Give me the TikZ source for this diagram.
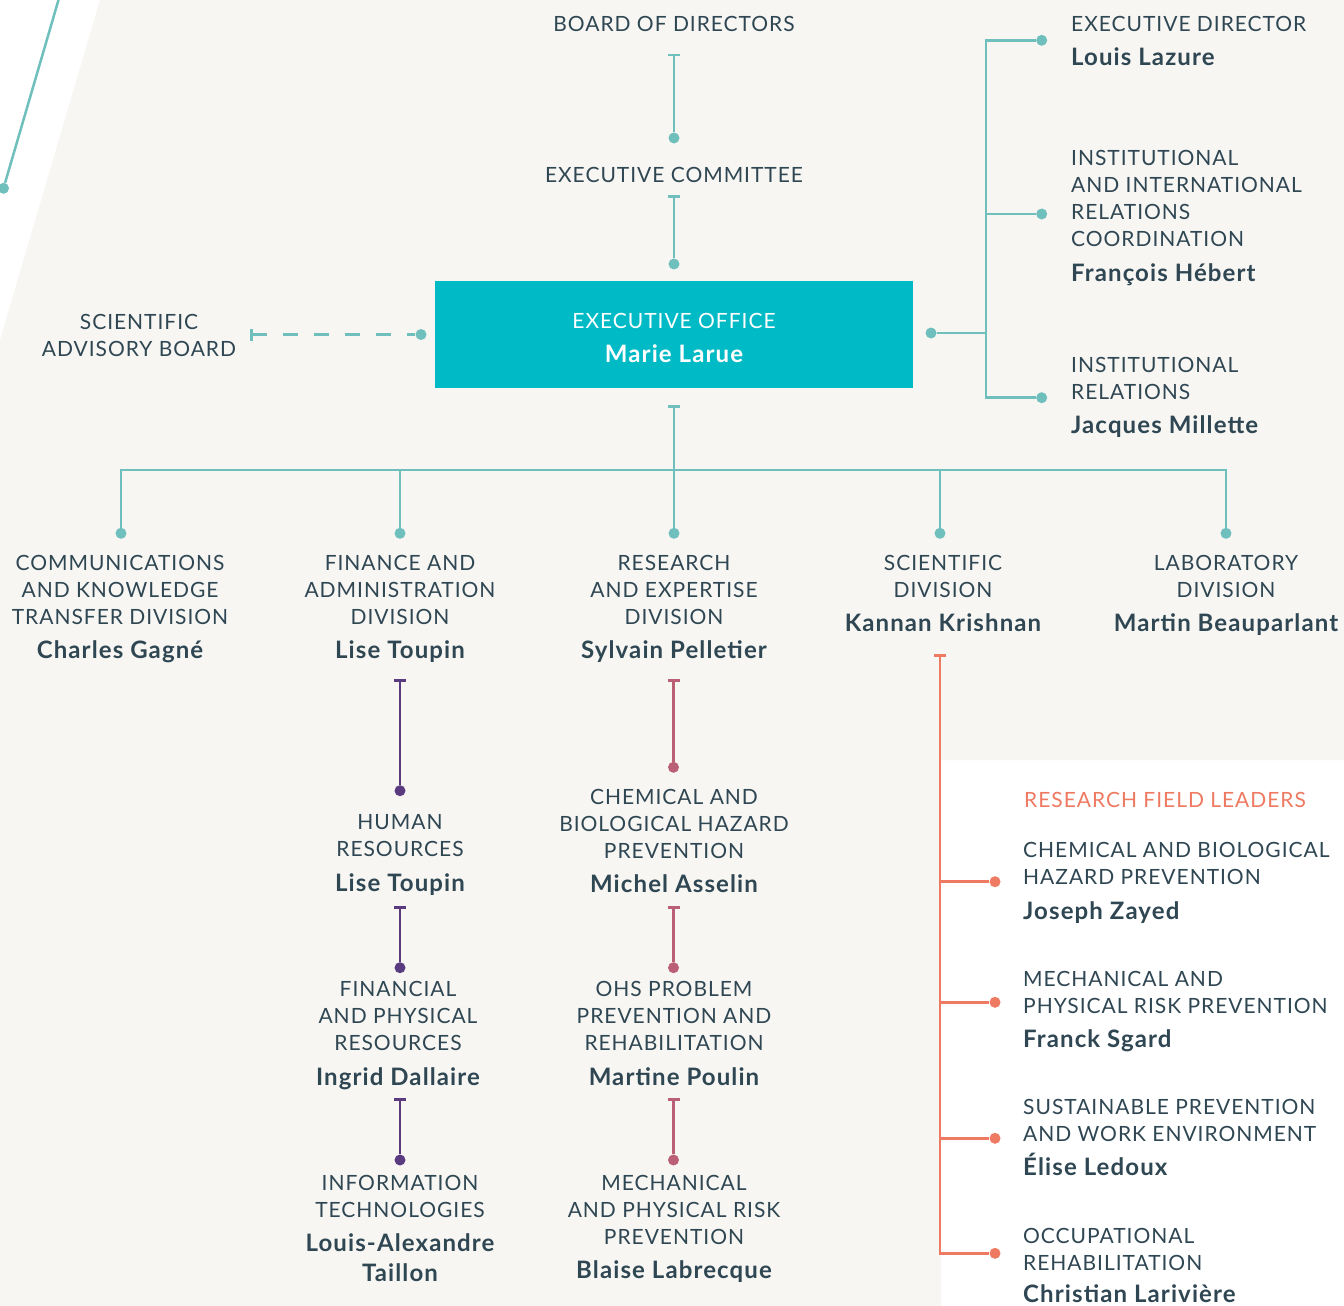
\documentclass[tikz,border=0pt]{standalone}
\usepackage{fontspec}
\setmainfont{Lato}[LetterSpace=4.6]
\usetikzlibrary{arrows.meta}
\definecolor{Paper}{HTML}{F7F6F3}
\definecolor{LinkTeal}{HTML}{6FBFBD}
\definecolor{OfficeCyan}{HTML}{00BAC6}
\definecolor{Ink}{HTML}{2F4653}
\definecolor{Plum}{HTML}{5A3B7F}
\definecolor{Rose}{HTML}{BA5F76}
\definecolor{Coral}{HTML}{EE7A62}

\begin{document}
\begin{tikzpicture}[x=1pt,y=-1pt,
    unit/.style={anchor=base,inner sep=0pt,align=center,text=Ink,font=\fontsize{21}{27}\selectfont},
    unitl/.style={unit,anchor=base west,align=left},
    head/.style={unit,font=\fontsize{24}{30}\selectfont\bfseries},
    headl/.style={head,anchor=base west,align=left},
    knob/.style={circle,fill=#1,inner sep=0pt,minimum size=11pt},
    knob/.default=LinkTeal,
    wire/.style={draw=#1,line width=2.5pt},
    wire/.default=LinkTeal,
    tee/.style={wire=#1,{Bar[width=12pt]}-},
    tee/.default=LinkTeal]
  \useasboundingbox (0,0) rectangle (1344,1306);
  \fill[white] (0,0) rectangle (1344,1306);
  \fill[Paper] (100,0) -- (1344,0) -- (1344,760) -- (941,760) -- (941,1306)
    -- (0,1306) -- (0,340) -- cycle;

  % top of the chart (multi-line texts sit on their last baseline)
  \node[unit] (board) at (674,32) {BOARD OF DIRECTORS};
  \node[unit] (excom) at (674,182) {EXECUTIVE COMMITTEE};
  \node[fill=OfficeCyan,minimum width=478pt,minimum height=107pt,inner sep=0pt] (exec) at (674,334.5) {};
  \node[unit,text=white] (office) at (674,328) {EXECUTIVE OFFICE};
  \node[head,text=white] (larue) at (674,362) {Marie Larue};
  \node[unit] (sab) at (139,356.7) {SCIENTIFIC\\ADVISORY BOARD};

  % executive office staff
  \node[unitl] (exdir) at (1071,32) {EXECUTIVE DIRECTOR};
  \node[headl] (lazure) at (1071,65.5) {Louis Lazure};
  \node[unitl] (iirc) at (1071,246.7) {INSTITUTIONAL\\AND INTERNATIONAL\\RELATIONS\\COORDINATION};
  \node[headl] (hebert) at (1071,281) {François Hébert};
  \node[unitl] (instrel) at (1071,399) {INSTITUTIONAL\\RELATIONS};
  \node[headl] (millette) at (1071,433) {Jacques Millette};

  % divisions
  \node[unit] (comm) at (120,624) {COMMUNICATIONS\\AND KNOWLEDGE\\TRANSFER DIVISION};
  \node[head] (gagne) at (120,658) {Charles Gagné};
  \node[unit] (finance) at (400,624) {FINANCE AND\\ADMINISTRATION\\DIVISION};
  \node[head] (toupin) at (400,658) {Lise Toupin};
  \node[unit] (research) at (674,624) {RESEARCH\\AND EXPERTISE\\DIVISION};
  \node[head] (pelletier) at (674,658) {Sylvain Pelletier};
  \node[unit] (science) at (943,597) {SCIENTIFIC\\DIVISION};
  \node[head] (krishnan) at (943,631.5) {Kannan Krishnan};
  \node[unit] (lab) at (1226,597) {LABORATORY\\DIVISION};
  \node[head] (beauparlant) at (1226,631.5) {Martin Beauparlant};

  % finance services
  \node[unit] (hr) at (400,856.7) {HUMAN\\RESOURCES};
  \node[head] (toupinb) at (400,891) {Lise Toupin};
  \node[unit] (fpr) at (398,1050) {FINANCIAL\\AND PHYSICAL\\RESOURCES};
  \node[head] (dallaire) at (398,1085) {Ingrid Dallaire};
  \node[unit] (infotech) at (400,1217.7) {INFORMATION\\TECHNOLOGIES};
  \node[head] (taillon) at (400,1281.7) {Louis-Alexandre\\Taillon};

  % research departments
  \node[unit] (chem) at (674,858.3) {CHEMICAL AND\\BIOLOGICAL HAZARD\\PREVENTION};
  \node[head] (asselin) at (674,892.7) {Michel Asselin};
  \node[unit] (ohs) at (674,1050) {OHS PROBLEM\\PREVENTION AND\\REHABILITATION};
  \node[head] (poulin) at (674,1085) {Martine Poulin};
  \node[unit] (mech) at (674,1244) {MECHANICAL\\AND PHYSICAL RISK\\PREVENTION};
  \node[head] (labrecque) at (674,1278.7) {Blaise Labrecque};

  % research field leaders
  \node[unitl,text=Coral] (rfl) at (1024,807.7) {RESEARCH FIELD LEADERS};
  \node[unitl] (fldA) at (1023,884.3) {CHEMICAL AND BIOLOGICAL\\HAZARD PREVENTION};
  \node[headl] (zayed) at (1023,919.3) {Joseph Zayed};
  \node[unitl] (fldB) at (1023,1013.3) {MECHANICAL AND\\PHYSICAL RISK PREVENTION};
  \node[headl] (sgard) at (1023,1047.3) {Franck Sgard};
  \node[unitl] (fldC) at (1023,1141.7) {SUSTAINABLE PREVENTION\\AND WORK ENVIRONMENT};
  \node[headl] (ledoux) at (1023,1175.7) {Élise Ledoux};
  \node[unitl] (fldD) at (1023,1270) {OCCUPATIONAL\\REHABILITATION};
  \node[headl] (lariviere) at (1023,1302.5) {Christian Larivière};

  % dots and bar ends
  \coordinate (edge) at (58.5,0);
  \node[knob] (dEdge) at (3.5,188.3) {};
  \coordinate (bBoard) at (674,54);
  \node[knob] (dExcom) at (674,138) {};
  \coordinate (bExcom) at (674,195);
  \node[knob] (dExec) at (674,264) {};
  \coordinate (bSab) at (250,334.5);
  \node[knob] (dSab) at (421,334.5) {};
  \node[knob] (dStaff) at (931,333) {};
  \coordinate (jStaff) at (986,333);
  \node[knob] (dExdir) at (1041.7,40.3) {};
  \node[knob] (dIirc) at (1041.7,214) {};
  \node[knob] (dInstrel) at (1041.7,397.7) {};
  \coordinate (bBus) at (674,405);
  \coordinate (jBus) at (674,470);
  \node[knob] (dComm) at (121,533.3) {};
  \node[knob] (dFin) at (400,533.3) {};
  \node[knob] (dRes) at (674,533.3) {};
  \node[knob] (dSci) at (940,533.3) {};
  \node[knob] (dLab) at (1226,533.3) {};
  \coordinate (bFin1) at (400,679);
  \node[knob=Plum] (dFin1) at (400,790.7) {};
  \coordinate (bFin2) at (400,906);
  \node[knob=Plum] (dFin2) at (400,967.7) {};
  \coordinate (bFin3) at (400,1098);
  \node[knob=Plum] (dFin3) at (400,1160) {};
  \coordinate (bRes1) at (673.5,679);
  \node[knob=Rose] (dRes1) at (673.5,767.3) {};
  \coordinate (bRes2) at (673.5,906);
  \node[knob=Rose] (dRes2) at (673.5,967.7) {};
  \coordinate (bRes3) at (673.5,1098);
  \node[knob=Rose] (dRes3) at (673.5,1160) {};
  \coordinate (bSci) at (940,654);
  \node[knob=Coral] (dFldA) at (995,881.7) {};
  \node[knob=Coral] (dFldB) at (995,1002.3) {};
  \node[knob=Coral] (dFldC) at (995,1138.3) {};
  \node[knob=Coral] (dFldD) at (995,1253.3) {};

  % connectors
  \draw[wire] (edge) -- (dEdge);
  \draw[tee] (bBoard) -- (dExcom);
  \draw[tee] (bExcom) -- (dExec);
  \draw[tee,dash pattern=on 15pt off 16pt] (bSab) -- (dSab);
  \draw[wire] (dStaff) -- (jStaff);
  \foreach \d in {dExdir,dIirc,dInstrel}
    \draw[wire] (jStaff) |- (\d);
  \draw[tee] (bBus) -- (jBus);
  \foreach \d in {dComm,dFin,dRes,dSci,dLab}
    \draw[wire,line cap=rect] (jBus) -| (\d);
  \draw[tee=Plum] (bFin1) -- (dFin1);
  \draw[tee=Plum] (bFin2) -- (dFin2);
  \draw[tee=Plum] (bFin3) -- (dFin3);
  \draw[tee=Rose] (bRes1) -- (dRes1);
  \draw[tee=Rose] (bRes2) -- (dRes2);
  \draw[tee=Rose] (bRes3) -- (dRes3);
  \draw[tee=Coral] (bSci) |- (dFldD);
  \foreach \d in {dFldA,dFldB,dFldC}
    \draw[wire=Coral] (bSci |- \d) -- (\d);
\end{tikzpicture}
\end{document}
